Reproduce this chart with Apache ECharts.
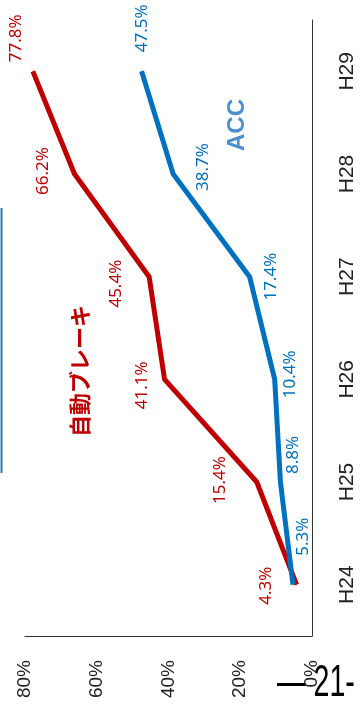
<!DOCTYPE html>
<html><head><meta charset="utf-8">
<style>html,body{margin:0;padding:0;background:#fff}#c{width:360px;height:707px}</style>
<script src="https://cdn.jsdelivr.net/npm/echarts@6/dist/echarts.min.js"></script>
</head><body><div id="c"></div>
<script>
const categories = ['H24','H25','H26','H27','H28','H29'];
const brakeValues = [4.3, 15.4, 41.1, 45.4, 66.2, 77.8];
const accValues = [5.3, 8.8, 10.4, 17.4, 38.7, 47.5];
const valueTicks = [0, 20, 40, 60, 80];

// screen-space label shifts (x, y) from each point
const brakeLabelShift = [[-30,1],[-37,-2],[-22,6],[-33,7],[-31,-3],[-17,-33]];
const accLabelShift = [[10,-48],[13,-27],[15,-5],[22,0],[30,-7],[1,-43]];

const chart = echarts.init(document.getElementById('c'), null, {renderer:'canvas'});
function mk(vals){ return vals.map((v,i)=>[v, categories[i]]); }
function lbl(color){
  return {show:true, position:'inside', rotate:90, align:'center', verticalAlign:'middle',
    color:color, fontSize:17, fontFamily:'Noto Sans', formatter:p=>p.value[0].toFixed(1)+'%'};
}
// label offsets are applied in the rotated label frame: screen (sx, sy) -> (dx=-sy, dy=sx)
function lay(shift){ return p=>({dx:-shift[p.dataIndex][1], dy:shift[p.dataIndex][0]}); }
chart.setOption({
  animation:false,
  grid:{left:25, right:48, top:20, bottom:71},
  xAxis:{type:'value', inverse:true, min:valueTicks[0], max:valueTicks[valueTicks.length-1], interval:20,
    position:'bottom', splitLine:{show:false}, axisTick:{show:false},
    axisLine:{show:true, lineStyle:{color:'#333', width:1}},
    axisLabel:{rotate:90, margin:24, fontSize:19, color:'#222', fontFamily:'Liberation Sans', formatter:v=>v+'%'}},
  yAxis:{type:'category', data:categories, position:'right', boundaryGap:true,
    axisTick:{show:false}, splitLine:{show:false},
    axisLine:{show:true, lineStyle:{color:'#333', width:1}},
    axisLabel:{rotate:90, margin:25, fontSize:21, color:'#222', fontFamily:'Liberation Sans'}},
  series:[
    {type:'line', name:'自動ブレーキ', data:mk(brakeValues), symbol:'circle', symbolSize:1, showSymbol:true,
     lineStyle:{color:'#C00000', width:5}, itemStyle:{color:'#C00000'}, label:lbl('#C00000'),
     labelLayout:lay(brakeLabelShift)},
    {type:'line', name:'ACC', data:mk(accValues), symbol:'circle', symbolSize:1, showSymbol:true,
     lineStyle:{color:'#0070C0', width:5}, itemStyle:{color:'#0070C0'}, label:lbl('#0070C0'),
     labelLayout:lay(accLabelShift)}
  ],
  graphic:[
    {type:'text', x:80, y:371, rotation:Math.PI/2, style:{text:'自動ブレーキ', fill:'#C00000',
      font:'bold 22px "Noto Sans CJK JP"', textAlign:'center', textVerticalAlign:'middle'}},
    {type:'text', x:237, y:125, rotation:Math.PI/2, style:{text:'ACC', fill:'#4A8FD0',
      font:'bold 24px "Liberation Sans"', textAlign:'center', textVerticalAlign:'middle'}},
    {type:'line', shape:{x1:1.5, y1:208, x2:1.5, y2:473}, style:{stroke:'#2A7AB8', lineWidth:2}},
    {type:'text', x:277, y:684, scaleX:0.65, style:{text:'— 21-', fill:'#000',
      font:'44px "Liberation Sans"', textAlign:'left', textVerticalAlign:'middle'}}
  ]
});
</script></body></html>
